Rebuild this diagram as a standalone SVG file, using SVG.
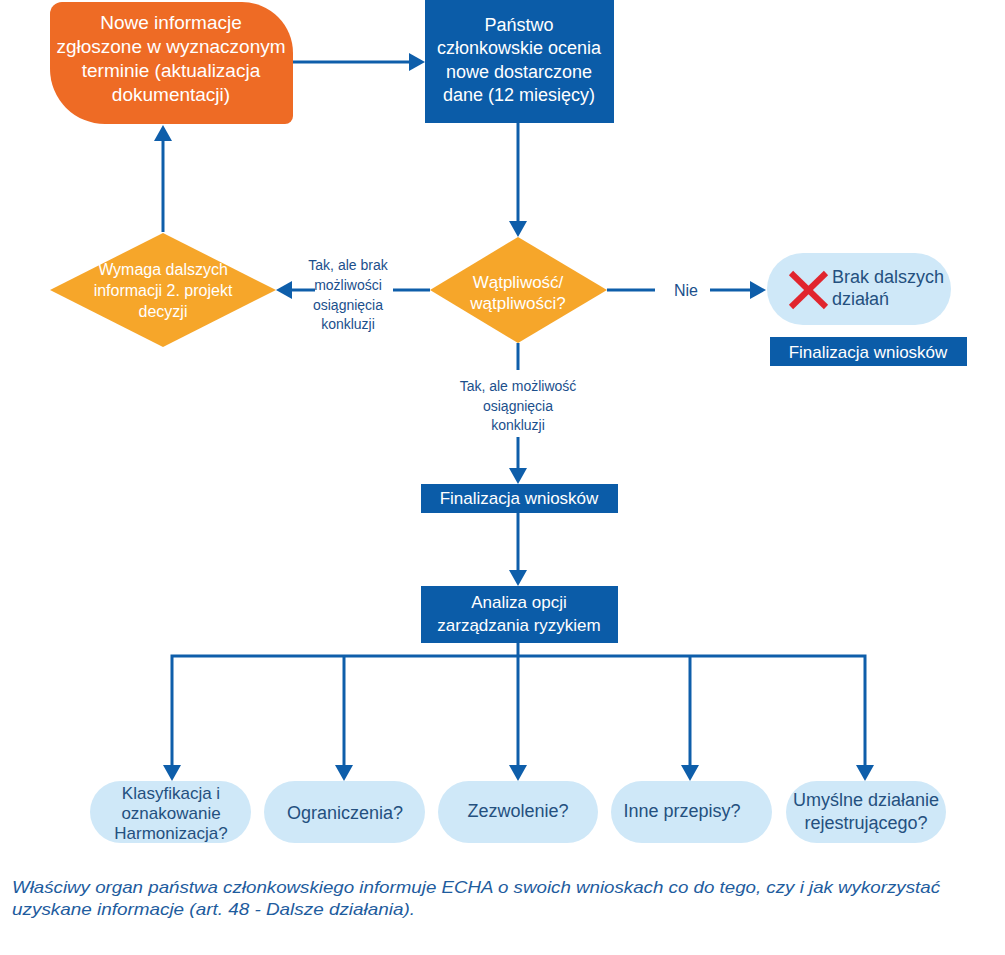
<svg xmlns="http://www.w3.org/2000/svg" width="1005" height="955" viewBox="0 0 1005 955">
<defs>
<style>
.ln{stroke:#0E5EAA;stroke-width:3;fill:none}
.ah{fill:#0E5EAA}
.wt{fill:#ffffff;font-family:"Liberation Sans",Arial,sans-serif;text-anchor:middle}
.lb{fill:#1B4F8C;font-family:"Liberation Sans",Arial,sans-serif;font-size:14px;text-anchor:middle}
.pt{fill:#24507F;font-family:"Liberation Sans",Arial,sans-serif;font-size:18px;text-anchor:middle}
.box{fill:#0B5CA8}
.pill{fill:#CFE8F8}
.dia{fill:#F6A62A}
</style>
</defs>
<rect width="1005" height="955" fill="#ffffff"/>

<g id="connectors">
<line class="ln" x1="293" y1="62" x2="410" y2="62"/>
<polygon class="ah" points="425,62 409,53 409,71"/>
<line class="ln" x1="518" y1="123" x2="518" y2="222"/>
<polygon class="ah" points="518,237 509,221 527,221"/>
<line class="ln" x1="163" y1="232" x2="163" y2="140"/>
<polygon class="ah" points="163,125 154,141 172,141"/>
<line class="ln" x1="430" y1="290" x2="393" y2="290"/>
<line class="ln" x1="315" y1="290" x2="292" y2="290"/>
<polygon class="ah" points="276,290 292,281 292,299"/>
<line class="ln" x1="607" y1="290" x2="655" y2="290"/>
<line class="ln" x1="710" y1="290" x2="750" y2="290"/>
<polygon class="ah" points="766,290 750,281 750,299"/>
<line class="ln" x1="518" y1="343" x2="518" y2="370"/>
<line class="ln" x1="518" y1="437" x2="518" y2="468"/>
<polygon class="ah" points="518,484 509,468 527,468"/>
<line class="ln" x1="518" y1="512" x2="518" y2="570"/>
<polygon class="ah" points="518,586 509,570 527,570"/>
<line class="ln" x1="518" y1="643" x2="518" y2="656"/>
<polyline class="ln" points="172,765 172,656 865,656 865,765"/>
<line class="ln" x1="344" y1="656" x2="344" y2="765"/>
<line class="ln" x1="518" y1="656" x2="518" y2="765"/>
<line class="ln" x1="690" y1="656" x2="690" y2="765"/>
<polygon class="ah" points="172,781 163,765 181,765"/>
<polygon class="ah" points="344,781 335,765 353,765"/>
<polygon class="ah" points="518,781 509,765 527,765"/>
<polygon class="ah" points="690,781 681,765 699,765"/>
<polygon class="ah" points="865,781 856,765 874,765"/>
<text class="lb" x="348" y="270">Tak, ale brak</text>
<text class="lb" x="348" y="290">możliwości</text>
<text class="lb" x="348" y="310">osiągnięcia</text>
<text class="lb" x="348" y="329">konkluzji</text>
<text class="lb" x="686" y="296" style="font-size:16px">Nie</text>
<text class="lb" x="518" y="391">Tak, ale możliwość</text>
<text class="lb" x="518" y="411">osiągnięcia</text>
<text class="lb" x="518" y="430">konkluzji</text>
</g>

<g id="new-info">
<path d="M62,2 H242 A51,51 0 0 1 293,53 V116 A8,8 0 0 1 285,124 H105 A55,55 0 0 1 50,69 V14 A12,12 0 0 1 62,2 Z" fill="#EE6B25"/>
<text class="wt" font-size="19" x="171" y="29">Nowe informacje</text>
<text class="wt" font-size="19" x="171" y="53">zgłoszone w wyznaczonym</text>
<text class="wt" font-size="19" x="171" y="77">terminie (aktualizacja</text>
<text class="wt" font-size="19" x="171" y="101">dokumentacji)</text>
</g>

<g id="member-state">
<rect class="box" x="425" y="0" width="189" height="123"/>
<text class="wt" font-size="18" x="519" y="31">Państwo</text>
<text class="wt" font-size="18" x="519" y="54">członkowskie ocenia</text>
<text class="wt" font-size="18" x="519" y="78">nowe dostarczone</text>
<text class="wt" font-size="18" x="519" y="101">dane (12 miesięcy)</text>
</g>

<g id="doubt">
<polygon class="dia" points="518,237 607,290 518,343 430,290"/>
<text class="wt" font-size="17" x="518" y="288">Wątpliwość/</text>
<text class="wt" font-size="17" x="518" y="309">wątpliwości?</text>
</g>

<g id="more-info">
<polygon class="dia" points="163,233 276,290 163,347 50,290"/>
<text class="wt" font-size="16" x="163" y="275">Wymaga dalszych</text>
<text class="wt" font-size="16" x="163" y="296">informacji 2. projekt</text>
<text class="wt" font-size="16" x="163" y="317">decyzji</text>
</g>

<g id="no-action">
<rect class="pill" x="767" y="253" width="184" height="72" rx="36"/>
<line x1="791" y1="273" x2="826" y2="307" stroke="#E1252E" stroke-width="6" stroke-linecap="butt"/>
<line x1="826" y1="273" x2="791" y2="307" stroke="#E1252E" stroke-width="6" stroke-linecap="butt"/>
<text class="pt" x="832" y="283" style="text-anchor:start">Brak dalszych</text>
<text class="pt" x="832" y="305" style="text-anchor:start">działań</text>
</g>

<g id="final-right">
<rect class="box" x="770" y="337" width="197" height="29"/>
<text class="wt" font-size="17" x="868" y="358">Finalizacja wniosków</text>
</g>

<g id="final-center">
<rect class="box" x="421" y="484" width="197" height="29"/>
<text class="wt" font-size="17" x="519" y="504">Finalizacja wniosków</text>
</g>

<g id="rmoa">
<rect class="box" x="421" y="586" width="197" height="57"/>
<text class="wt" font-size="17" x="519" y="608">Analiza opcji</text>
<text class="wt" font-size="17" x="519" y="631">zarządzania ryzykiem</text>
</g>

<g id="clh">
<rect class="pill" x="90" y="781" width="161" height="62" rx="31"/>
<text class="pt" x="171" y="799" style="font-size:17px">Klasyfikacja i</text>
<text class="pt" x="171" y="819" style="font-size:17px">oznakowanie</text>
<text class="pt" x="171" y="839" style="font-size:17px">Harmonizacja?</text>
</g>

<g id="restriction">
<rect class="pill" x="264" y="781" width="161" height="62" rx="31"/>
<text class="pt" x="345" y="819">Ograniczenia?</text>
</g>

<g id="authorisation">
<rect class="pill" x="438" y="781" width="160" height="62" rx="31"/>
<text class="pt" x="518" y="817">Zezwolenie?</text>
</g>

<g id="other">
<rect class="pill" x="611" y="781" width="161" height="62" rx="31"/>
<text class="pt" x="682" y="817">Inne przepisy?</text>
</g>

<g id="registrant">
<rect class="pill" x="786" y="781" width="160" height="62" rx="31"/>
<text class="pt" x="866" y="806">Umyślne działanie</text>
<text class="pt" x="866" y="829">rejestrującego?</text>
</g>

<g id="caption" font-family="'Liberation Sans',Arial,sans-serif" font-style="italic" font-size="17" fill="#1E5C9E">
<text x="12" y="893" textLength="928" lengthAdjust="spacingAndGlyphs">Właściwy organ państwa członkowskiego informuje ECHA o swoich wnioskach co do tego, czy i jak wykorzystać</text>
<text x="12" y="915" textLength="403" lengthAdjust="spacingAndGlyphs">uzyskane informacje (art. 48 - Dalsze działania).</text>
</g>
</svg>
